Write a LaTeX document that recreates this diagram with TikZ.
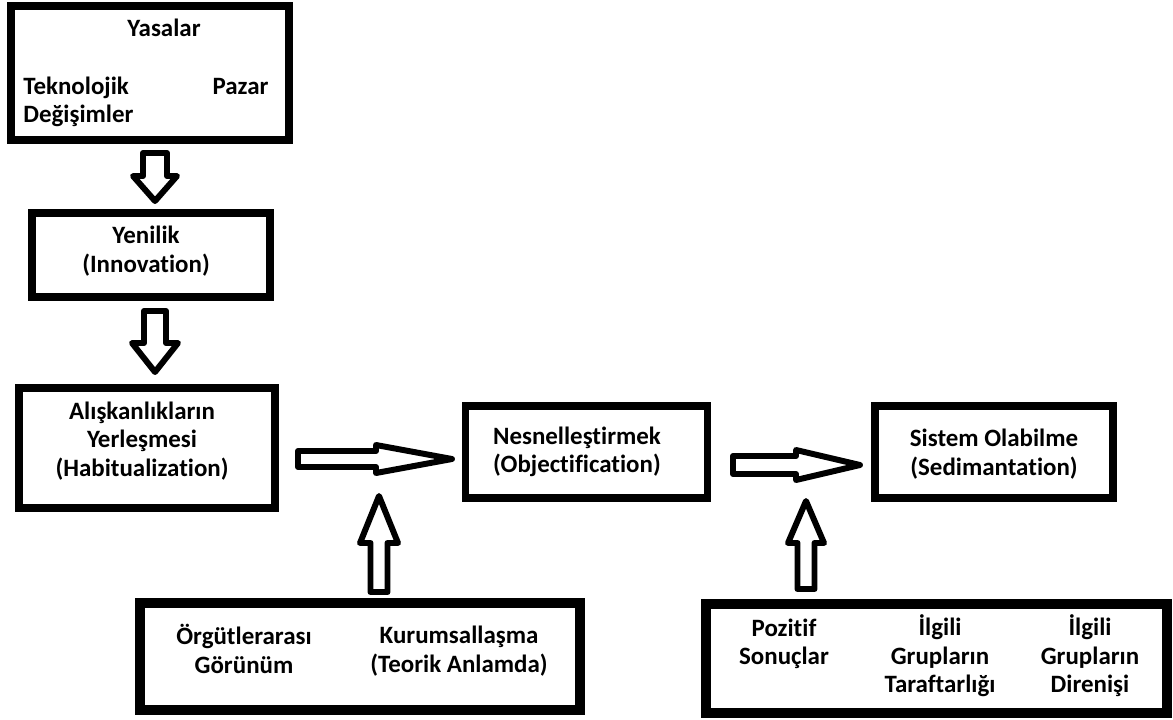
\documentclass[tikz,border=0pt]{standalone}
\usepackage{fontspec}
\setmainfont{Carlito}[Ligatures=NoCommon]
\usepackage{tikz}

\tikzset{
  box/.style={draw, line width=4.5pt, inner sep=0pt},
  bigbox/.style={box, line width=5.4pt},
  txt/.style={font=\fontsize{14.2}{16.2}\selectfont\bfseries, align=center, inner sep=0pt},
  fatarrow/.style={draw, line width=3.4pt, line join=round, fill=white}
}

\begin{document}
\begin{tikzpicture}[x=0.02cm, y=-0.02cm]
    \useasboundingbox (0,0) rectangle (1173,720);

    % boxes
    \node[box, minimum width=5.56cm, minimum height=2.68cm] (etken) at (150,73) {};
    \node[box, minimum width=4.77cm, minimum height=1.69cm] (yenilik) at (151,255) {};
    \node[box, minimum width=5.11cm, minimum height=2.40cm] (aliskanlik) at (147,448) {};
    \node[box, minimum width=4.84cm, minimum height=1.83cm] (nesne) at (586.5,452) {};
    \node[box, minimum width=4.75cm, minimum height=1.83cm] (sistem) at (994,452) {};
    \node[bigbox, minimum width=8.81cm, minimum height=2.14cm] (orgut) at (360,656.5) {};
    \node[bigbox, minimum width=9.22cm, minimum height=2.18cm] (grup) at (936.5,658.5) {};

    % texts
    \node[txt] (yasalar) at (164,28) {Yasalar};
    \node[txt, anchor=west, align=left] (teknoloji) at (23,102) {Teknolojik\\Değişimler};
    \node[txt] (pazar) at (240.5,87) {Pazar};
    \node[txt] (yenilikt) at (146,251) {Yenilik\\(Innovation)};
    \node[txt] (aliskanlikt) at (142,441) {Alışkanlıkların\\Yerleşmesi\\(Habitualization)};
    \node[txt] (nesnet) at (577,452) {Nesnelleştirmek\\(Objectification)};
    \node[txt] (sistemt) at (994,454) {Sistem Olabilme\\(Sedimantation)};
    \node[txt] (orgutt) at (244,649) {Örgütlerarası\\Görünüm};
    \node[txt] (kurum) at (459,651) {Kurumsallaşma\\(Teorik Anlamda)};
    \node[txt] (pozitif) at (784,644) {Pozitif\\Sonuçlar};
    \node[txt] (taraf) at (940,656) {İlgili\\Grupların\\Taraftarlığı};
    \node[txt] (direnis) at (1090,656) {İlgili\\Grupların\\Direnişi};

    % block arrows
    \coordinate (a1) at (155,153);
    \coordinate (a2) at (155,311);
    \coordinate (a3) at (298,459);
    \coordinate (a4) at (733,465);
    \coordinate (a5) at (379,592);
    \coordinate (a6) at (806,589);
    \draw[fatarrow, shift={(a1)}, rotate=-90] (0,-12) -- (23,-12) -- (23,-22) -- (48,0) -- (23,22) -- (23,12) -- (0,12) -- cycle;
    \draw[fatarrow, shift={(a2)}, rotate=-90] (0,-11) -- (32,-11) -- (32,-23) -- (61,0) -- (32,23) -- (32,11) -- (0,11) -- cycle;
    \draw[fatarrow, shift={(a3)}] (0,-8) -- (78,-8) -- (78,-14) -- (154,0) -- (78,14) -- (78,8) -- (0,8) -- cycle;
    \draw[fatarrow, shift={(a4)}] (0,-9) -- (63,-9) -- (63,-15) -- (127,0) -- (63,15) -- (63,9) -- (0,9) -- cycle;
    \draw[fatarrow, shift={(a5)}, rotate=90] (0,-8.5) -- (49,-8.5) -- (49,-19) -- (96,0) -- (49,19) -- (49,8.5) -- (0,8.5) -- cycle;
    \draw[fatarrow, shift={(a6)}, rotate=90] (0,-8.5) -- (46,-8.5) -- (46,-18) -- (88,0) -- (46,18) -- (46,8.5) -- (0,8.5) -- cycle;
\end{tikzpicture}
\end{document}
